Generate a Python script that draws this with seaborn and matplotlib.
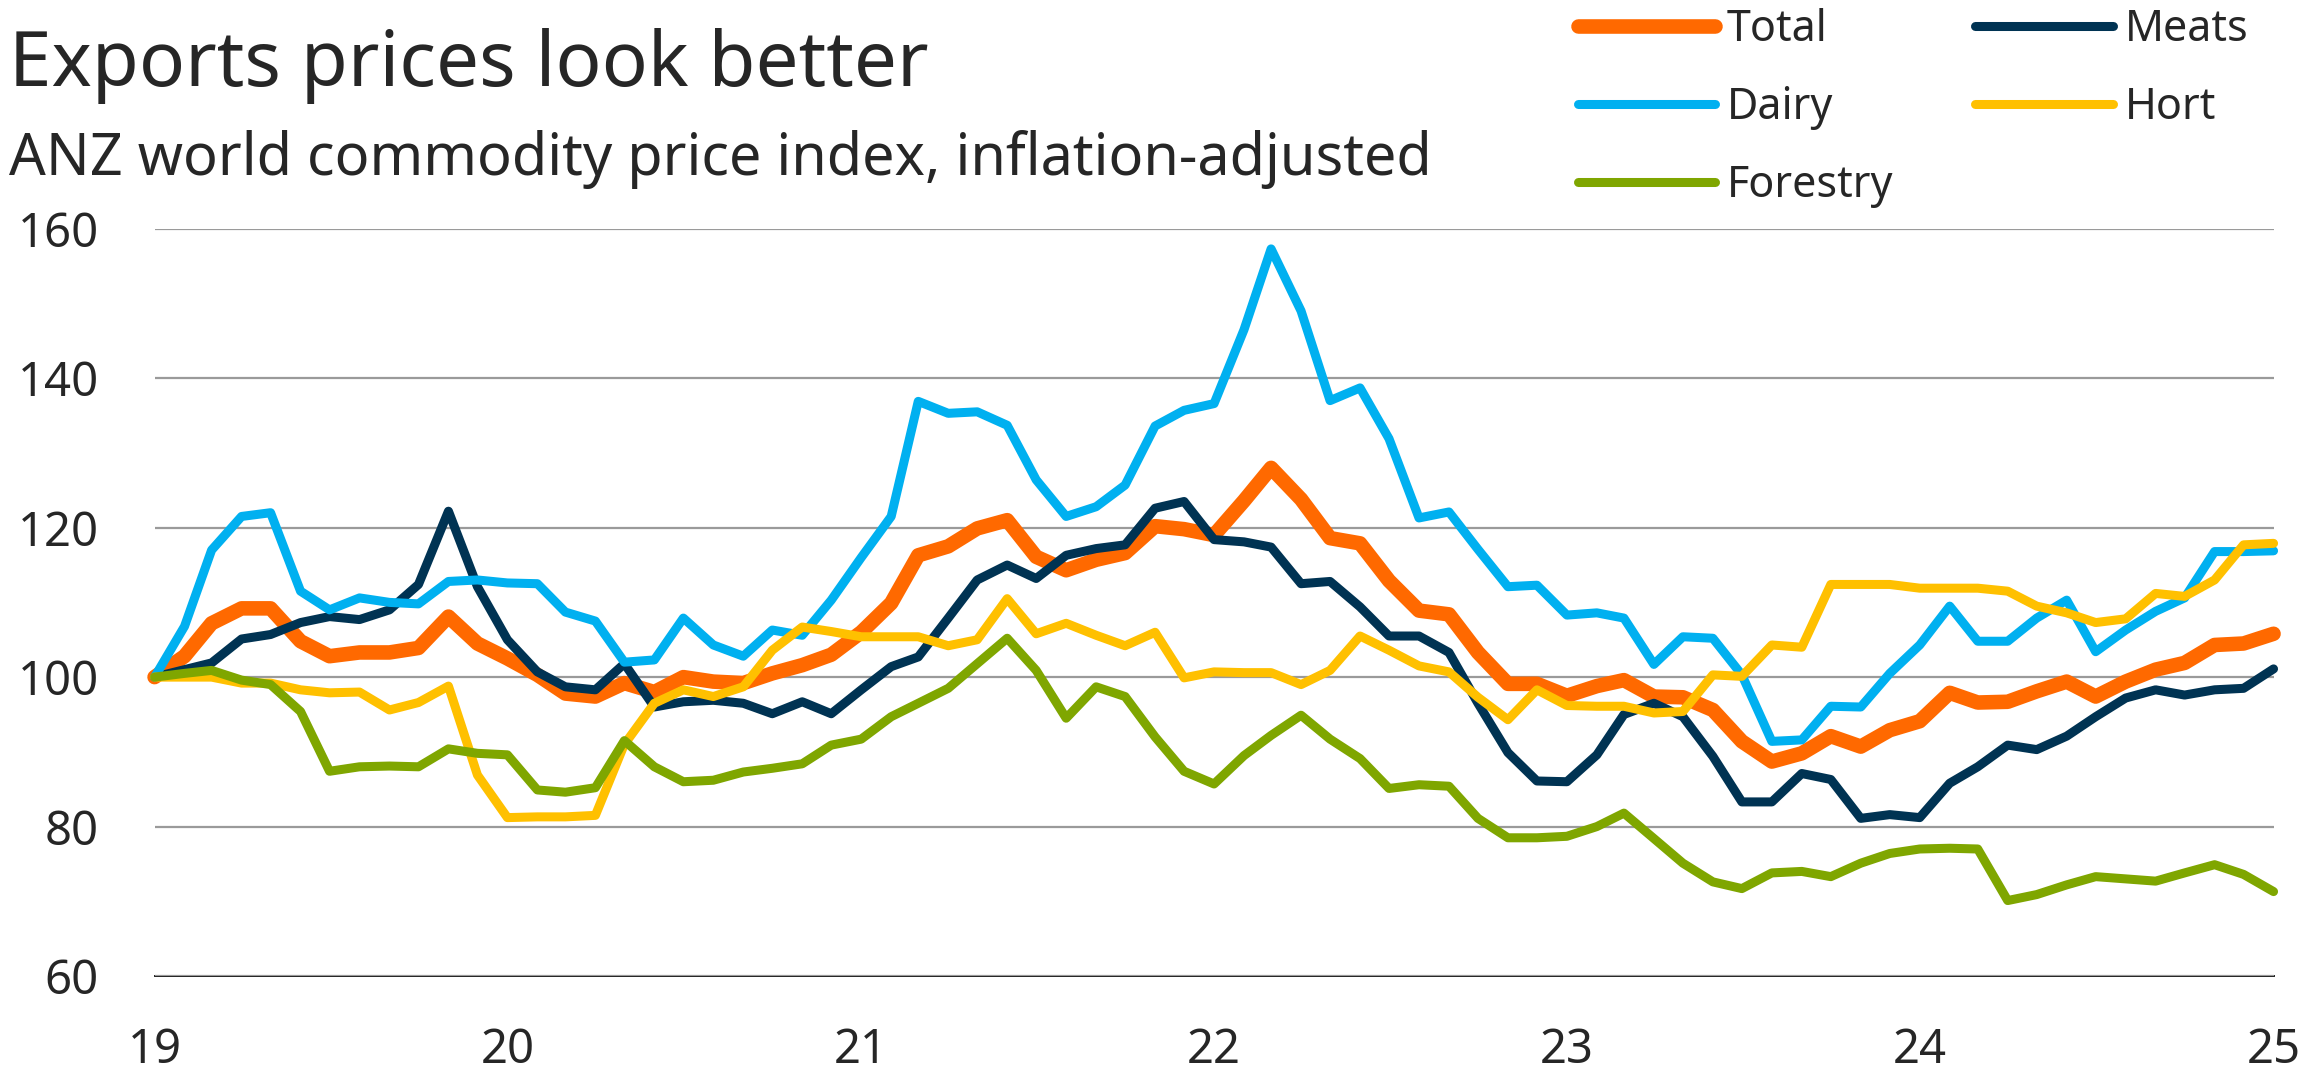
import pandas as pd
import matplotlib.pyplot as plt
import matplotlib.dates as mdates
import seaborn as sns

# ANZ world commodity price index, inflation-adjusted, monthly Jan-2019 .. Jan-2025
months = pd.date_range('2019-01-01', '2025-01-01', freq='MS')

total = [100, 102.8, 107.2, 109.2, 109.2, 104.8, 102.8, 103.3, 103.3, 103.9, 108.1, 104.5,
         102.5, 100.3, 97.8, 97.4, 99.2, 98.0, 100.0, 99.4, 99.2, 100.5, 101.6, 103.0,
         106.0, 109.9, 116.3, 117.5, 119.9, 121.0, 116.1, 114.3, 115.7, 116.6, 120.2, 119.8,
         119.0, 123.6, 128.0, 123.8, 118.6, 117.9, 112.9, 108.9, 108.4, 103.3, 99.1, 99.1,
         97.5, 98.8, 99.6, 97.4, 97.3, 95.6, 91.4, 88.7, 89.8, 92.1, 90.7, 92.9,
         94.1, 97.9, 96.6, 96.7, 98.1, 99.4, 97.4, 99.4, 101.0, 101.9, 104.3, 104.5,
         105.8]
meats = [100, 101.0, 101.9, 105.1, 105.7, 107.3, 108.1, 107.7, 109.0, 112.4, 122.2, 112.1,
         105.0, 100.7, 98.7, 98.3, 101.8, 96.0, 96.7, 96.9, 96.5, 95.1, 96.7, 95.1,
         98.3, 101.4, 102.7, 107.9, 113.0, 115.0, 113.2, 116.3, 117.2, 117.7, 122.6, 123.5,
         118.4, 118.1, 117.4, 112.5, 112.8, 109.4, 105.5, 105.5, 103.3, 96.5, 89.9, 86.1,
         86.0, 89.6, 95.0, 96.5, 94.7, 89.4, 83.3, 83.3, 87.1, 86.3, 81.1, 81.6,
         81.2, 85.8, 88.0, 90.9, 90.3, 92.1, 94.7, 97.2, 98.3, 97.6, 98.3, 98.5,
         101.1]
dairy = [100, 106.8, 117.0, 121.5, 122.0, 111.5, 109.0, 110.6, 110.0, 109.8, 112.8, 113.0,
         112.6, 112.5, 108.7, 107.5, 102.0, 102.3, 107.9, 104.3, 102.8, 106.3, 105.6, 110.3,
         116.0, 121.5, 136.9, 135.3, 135.5, 133.7, 126.4, 121.5, 122.8, 125.7, 133.6, 135.7,
         136.6, 146.5, 157.3, 149.0, 137.0, 138.7, 131.9, 121.3, 122.1, 117.1, 112.1, 112.3,
         108.3, 108.6, 107.9, 101.7, 105.4, 105.2, 100.3, 91.4, 91.6, 96.1, 96.0, 100.5,
         104.3, 109.5, 104.8, 104.8, 107.9, 110.3, 103.4, 106.3, 108.8, 110.6, 116.8, 116.8,
         116.9]
hort = [100, 100.0, 100.0, 99.2, 99.2, 98.3, 97.9, 98.0, 95.6, 96.6, 98.8, 86.9,
        81.2, 81.3, 81.3, 81.5, 91.0, 96.5, 98.3, 97.4, 98.7, 103.6, 106.7, 106.1,
        105.4, 105.4, 105.4, 104.2, 105.0, 110.5, 105.8, 107.2, 105.6, 104.2, 106.0, 99.9,
        100.7, 100.6, 100.6, 99.0, 100.9, 105.5, 103.6, 101.5, 100.7, 97.3, 94.3, 98.3,
        96.2, 96.1, 96.1, 95.2, 95.4, 100.3, 100.1, 104.3, 104.0, 112.4, 112.4, 112.4,
        111.9, 111.9, 111.9, 111.5, 109.5, 108.6, 107.3, 107.8, 111.2, 110.8, 113.0, 117.7,
        117.9]
forestry = [100, 100.5, 100.9, 99.6, 99.0, 95.4, 87.4, 88.0, 88.1, 88.0, 90.4, 89.8,
            89.6, 84.9, 84.6, 85.2, 91.5, 88.0, 86.0, 86.2, 87.3, 87.8, 88.4, 90.9,
            91.7, 94.7, 96.5, 98.5, 101.8, 105.2, 100.9, 94.5, 98.7, 97.4, 92.0, 87.4,
            85.7, 89.5, 92.2, 94.9, 91.7, 89.1, 85.1, 85.6, 85.4, 81.1, 78.5, 78.5,
            78.7, 80.0, 81.8, 78.4, 75.1, 72.6, 71.7, 73.8, 74.0, 73.3, 75.1, 76.4,
            77.0, 77.1, 77.0, 70.1, 70.9, 72.2, 73.3, 73.0, 72.7, 73.8, 74.9, 73.6,
            71.3]

series = {'Total': total, 'Meats': meats, 'Dairy': dairy, 'Hort': hort, 'Forestry': forestry}
colors = {'Total': '#FF6900', 'Meats': '#003353', 'Dairy': '#00B0F0',
          'Hort': '#FFC000', 'Forestry': '#7FA600'}
widths = {'Total': 10.5, 'Meats': 6.5, 'Dairy': 6.5, 'Hort': 6.5, 'Forestry': 6.5}

df = pd.DataFrame(series)
df['month'] = months
long_df = df.melt(id_vars='month', var_name='series', value_name='index')

sns.set_style('white')
plt.rcParams['font.family'] = ['Noto Sans', 'DejaVu Sans']

fig = plt.figure(figsize=(23.07, 10.81), dpi=100)
ax = fig.add_axes([0.067, 0.0971, 0.9185, 0.6913])

for name in series:
    sns.lineplot(data=long_df[long_df['series'] == name], x='month', y='index',
                 color=colors[name], linewidth=widths[name], label=name, ax=ax,
                 solid_capstyle='round', solid_joinstyle='round', clip_on=False)

ax.set_xlim(months[0], months[-1])
ax.set_ylim(60, 160)
ax.set_yticks(range(60, 161, 20))
ax.xaxis.set_major_locator(mdates.YearLocator())
ax.xaxis.set_major_formatter(mdates.DateFormatter('%y'))
ax.set_xlabel('')
ax.set_ylabel('')

ax.grid(axis='y', color='#9a9a9a', linewidth=1.6)
ax.grid(axis='x', visible=False)
for side in ['top', 'right', 'left']:
    ax.spines[side].set_visible(False)
ax.spines['bottom'].set_color('#222222')
ax.spines['bottom'].set_linewidth(1.4)
ax.spines['bottom'].set_zorder(0.5)
ax.tick_params(axis='x', direction='out', length=14, width=1.4, color='#222222',
               labelsize=34, pad=23)
ax.tick_params(axis='y', length=0, labelsize=34, pad=40)

handles, labels = ax.get_legend_handles_labels()
order = ['Total', 'Dairy', 'Forestry', 'Meats', 'Hort']
hmap = dict(zip(labels, handles))
ax.get_legend().remove()
fig.legend([hmap[k] for k in order], order, ncol=2, loc='upper left',
           bbox_to_anchor=(0.667, 1.028), frameon=False, fontsize=31,
           handlelength=3.2, handletextpad=0.27, columnspacing=1.9, labelspacing=0.78)

fig.text(0.004, 0.92, 'Exports prices look better', fontsize=55, va='baseline')
fig.text(0.004, 0.838, 'ANZ world commodity price index, inflation-adjusted',
         fontsize=41.5, va='baseline')

fig.savefig('out.png', dpi=100)
